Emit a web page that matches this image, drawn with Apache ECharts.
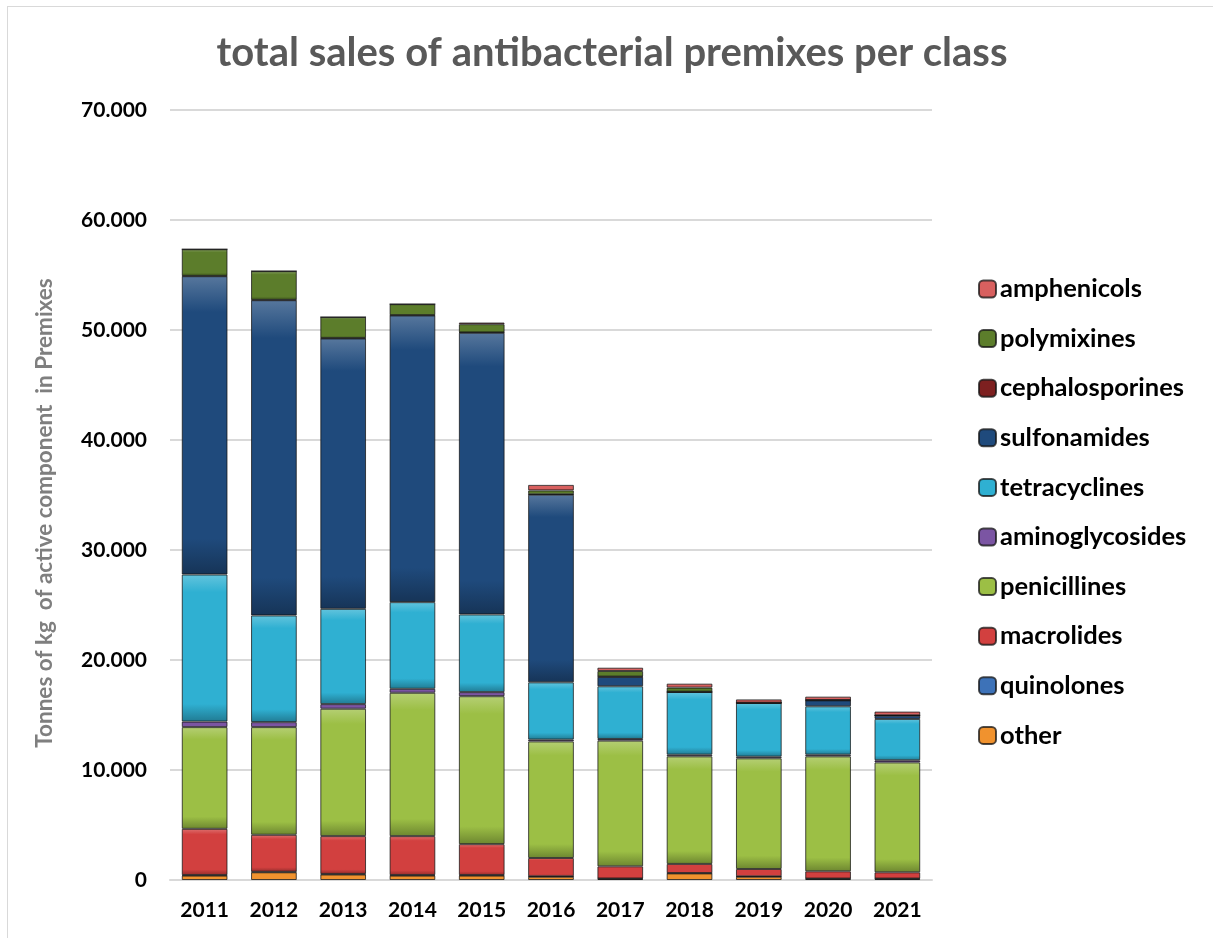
<!DOCTYPE html>
<html><head><meta charset="utf-8">
<script src="https://cdn.jsdelivr.net/npm/echarts@6/dist/echarts.min.js"></script>
<style>
html,body{margin:0;padding:0;background:#fff;}
#frame{position:absolute;left:7px;top:6px;width:1220px;height:940px;border:1px solid #d9d9d9;box-sizing:border-box;}
#c{position:absolute;left:0;top:0;width:1213px;height:938px;}
</style></head>
<body><div id="frame"></div><div id="c"></div>
<script>
const years = ['2011','2012','2013','2014','2015','2016','2017','2018','2019','2020','2021'];
const other          = [400, 700, 500, 400, 400, 300, 100, 600, 300, 100, 100];
const quinolones     = [50, 50, 50, 50, 50, 30, 30, 30, 30, 30, 30];
const macrolides     = [4200, 3360, 3440, 3540, 2810, 1670, 1110, 830, 670, 660, 570];
const penicillines   = [9250, 9790, 11580, 13030, 13450, 10600, 11430, 9780, 10060, 10450, 9990];
const aminoglycosides= [500, 450, 420, 360, 370, 160, 150, 150, 150, 150, 190];
const tetracyclines  = [13370, 9700, 8660, 7880, 7060, 5210, 4790, 5700, 4880, 4400, 3760];
const sulfonamides   = [27120, 28660, 24580, 26060, 25610, 17060, 850, 0, 0, 540, 300];
const cephalosporines= [30, 30, 30, 30, 30, 30, 30, 30, 30, 30, 30];
const polymixines    = [2420, 2610, 1910, 1000, 750, 360, 510, 370, 0, 0, 0];
const amphenicols    = [0, 0, 0, 0, 150, 500, 300, 360, 300, 310, 340];
const yTicks = [0, 10000, 20000, 30000, 40000, 50000, 60000, 70000];
const yTitle = 'Tonnes of kg  of active component  in Premixes';

const seriesDefs = [
  ['other', other, '#f0922e'],
  ['quinolones', quinolones, '#3d72b8'],
  ['macrolides', macrolides, '#d2403f'],
  ['penicillines', penicillines, '#9cbf45'],
  ['aminoglycosides', aminoglycosides, '#7b55a3'],
  ['tetracyclines', tetracyclines, '#2fb0d2'],
  ['sulfonamides', sulfonamides, '#1f4a7c'],
  ['cephalosporines', cephalosporines, '#7d2020'],
  ['polymixines', polymixines, '#5c7d2b'],
  ['amphenicols', amphenicols, '#d8605f']
];
function shade(hex, f){
  const n=parseInt(hex.slice(1),16);let r=n>>16,g=(n>>8)&255,b=n&255;
  if(f>0){r=r+(255-r)*f;g=g+(255-g)*f;b=b+(255-b)*f;}else{r=r*(1+f);g=g*(1+f);b=b*(1+f);}
  return 'rgb('+Math.round(r)+','+Math.round(g)+','+Math.round(b)+')';
}
const font = 'Lato, "Liberation Sans", sans-serif';
const chart = echarts.init(document.getElementById('c'), null, {renderer:'canvas'});
chart.setOption({
  animation:false,
  title:{text:'total sales of antibacterial premixes per class', left:607, textAlign:'center', top:28,
    textStyle:{fontFamily:font, fontSize:40, fontWeight:'bold', color:'#595959'}},
  grid:{left:170, right:281, top:110, bottom:58, containLabel:false},
  legend:{orient:'vertical', left:973, top:271, itemWidth:17, itemHeight:17, itemGap:23.6,
    data:seriesDefs.map(d=>d[0]).reverse(),
    textStyle:{fontFamily:font, fontSize:25.5, fontWeight:'bold', color:'#000', lineHeight:26, padding:[0,0,0,-1]}},
  graphic:[{type:'text', x:45, y:513, rotation:Math.PI/2,
    style:{text:yTitle, font:'bold 22.5px '+font, fill:'#7f7f7f', textAlign:'center', textVerticalAlign:'middle'}}],
  xAxis:{type:'category', data:years, axisTick:{show:false},
    axisLine:{lineStyle:{color:'#d9d9d9', width:2}},
    axisLabel:{fontFamily:font, fontSize:21, fontWeight:'bold', color:'#000', margin:20}},
  yAxis:{type:'value', min:0, max:70000, interval:10000,
    axisLabel:{fontFamily:font, fontSize:21, fontWeight:'bold', color:'#000', margin:23,
      formatter:v=> yTicks.indexOf(v)>=0 ? (v===0?'0':(v/1000)+'.000') : ''},
    splitLine:{lineStyle:{color:'#d9d9d9', width:2}}},
  series: seriesDefs.map(d=>({
    name:d[0], type:'bar', stack:'total', data:d[1], barWidth:'66%',
    itemStyle:{color:{type:'linear',x:0,y:0,x2:0,y2:1,colorStops:[
      {offset:0,color:shade(d[2],0.25)},{offset:0.12,color:d[2]},{offset:0.88,color:d[2]},{offset:1,color:shade(d[2],-0.3)}]},
      borderColor:'rgba(20,20,20,0.75)', borderWidth:1},
  }))
});
</script></body></html>
